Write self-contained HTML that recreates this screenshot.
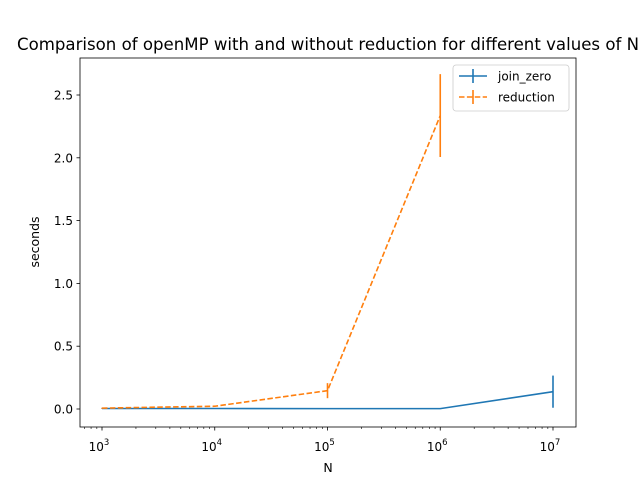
<!DOCTYPE html>
<html><head><meta charset="utf-8"><style>
body{margin:0;background:#fff}
svg{display:block;font-family:"DejaVu Sans","Liberation Sans",sans-serif}
</style></head><body>
<svg id="chart" width="640" height="480" viewBox="0 0 640 480">
<rect width="640" height="480" fill="#fff"/>
<text x="328" y="50" text-anchor="middle" font-size="16.6" textLength="622" lengthAdjust="spacingAndGlyphs">Comparison of openMP with and without reduction for different values of N</text>
<g id="plot"></g>
<text x="328" y="472" text-anchor="middle" font-size="12.5">N</text>
<text transform="translate(39,242) rotate(-90)" text-anchor="middle" font-size="12.5">seconds</text>
</svg>
<script>
const joinN=[1e3,1e4,1e5,1e6,1e7];
const joinVals=[0.004,0.004,0.003,0.003,0.138];
const joinErr=[0.002,0.002,0.002,0.002,0.128];
const redN=[1e3,1e4,1e5,1e6];
const redVals=[0.007,0.022,0.146,2.336];
const redErr=[0.003,0.005,0.06,0.33];
const yTicks=[0,0.5,1.0,1.5,2.0,2.5];
const yTickLabels=["0.0","0.5","1.0","1.5","2.0","2.5"];
const xTicks=[3,4,5,6,7];

const L=80,R=576,T=58,B=427;
const X=v=>102+(Math.log10(v)-3)*112.75;
const Y=v=>409-v*125.6;
const NS="http://www.w3.org/2000/svg";
const g=document.getElementById('plot');
function mk(tag,attrs,parent){const e=document.createElementNS(NS,tag);for(const k in attrs)e.setAttribute(k,attrs[k]);(parent||g).appendChild(e);return e;}

yTicks.forEach((t,i)=>{
  const y=Y(t);
  const l=mk('line',{x1:L-3.5,x2:L,y1:y,y2:y,stroke:'#000','stroke-width':0.8});
  
  
  const tx=mk('text',{x:L-7,y:y+4.5,'text-anchor':'end','font-size':12});
  tx.textContent=yTickLabels[i];
  
  
});
for(let d=2;d<=7;d++){
  for(let m=1;m<10;m++){
    const v=m*Math.pow(10,d);
    const x=X(v);
    if(x<L||x>R) continue;
    const major=(m===1);
    const l=mk('line',{x1:x,x2:x,y1:B,y2:B+(major?3.5:2),stroke:'#000','stroke-width':major?0.8:0.6});
    
    
  }
}
xTicks.forEach(p=>{
  const x=X(Math.pow(10,p));
  const tx=mk('text',{x:x-3,y:B+24,'text-anchor':'middle','font-size':12});
  tx.textContent='10';
  const s=mk('tspan',{dy:-6,'font-size':8.5},tx);
  s.textContent=String(p);
  
  
});

function series(N,V,E,color,dash,name){
  const grp=mk('g',{});
  
  
  const pts=N.map((n,i)=>X(n)+','+Y(V[i])).join(' ');
  const pl=mk('polyline',{points:pts,fill:'none',stroke:color,'stroke-width':1.6,'stroke-dasharray':dash||'none'},grp);
  
  
  N.forEach((n,i)=>{
    const e=mk('line',{x1:X(n),x2:X(n),y1:Y(V[i]-E[i]),y2:Y(V[i]+E[i]),stroke:color,'stroke-width':1.6},grp);
    
    
  });
}
series(joinN,joinVals,joinErr,'#1f77b4',null,'join-zero');
series(redN,redVals,redErr,'#ff7f0e','5.5,2.4','reduction');

const fr=mk('rect',{x:L,y:T,width:R-L,height:B-T,fill:'none',stroke:'#000','stroke-width':0.8});



const lg=mk('g',{});


mk('rect',{x:453,y:65,width:116,height:46,rx:3,fill:'#fff',stroke:'#ccc','stroke-width':0.8},lg);
const items=[['join_zero','#1f77b4',null,80],['reduction','#ff7f0e','5.5,2.4',101]];
items.forEach(([lab,c,d,y])=>{
  const it=mk('g',{},lg);
  
  
  mk('line',{x1:459,x2:487,y1:y-4,y2:y-4,stroke:c,'stroke-width':1.6,'stroke-dasharray':d||'none'},it);
  mk('line',{x1:473,x2:473,y1:y-11,y2:y+3,stroke:c,'stroke-width':1.6},it);
  const t=mk('text',{x:498,y:y+0.5,'font-size':12},it);
  t.textContent=lab;
});
</script>
</body></html>
